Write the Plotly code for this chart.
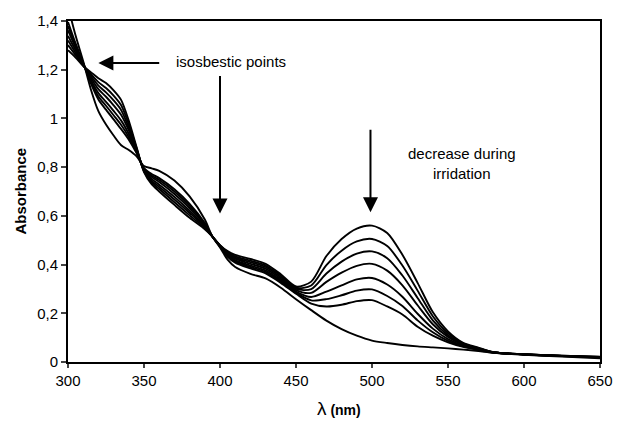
import plotly.graph_objects as go

wavelength = [300, 305, 310, 315, 320, 325, 330, 335, 340, 345, 350, 355, 360, 370, 380, 390, 395,
              400, 405, 410, 420, 430, 440, 450, 460, 470, 480, 490, 500, 510, 520, 530, 540, 550,
              560, 570, 580, 600, 625, 650]

spec_1 = [1.280, 1.250, 1.215, 1.190, 1.165, 1.145, 1.115, 1.075, 0.990, 0.885, 0.780, 0.730, 0.700,
          0.645, 0.592, 0.545, 0.515, 0.480, 0.455, 0.440, 0.423, 0.403, 0.360, 0.310, 0.330, 0.435,
          0.505, 0.548, 0.560, 0.530, 0.440, 0.325, 0.205, 0.126, 0.079, 0.059, 0.040, 0.032, 0.026, 0.022]
spec_2 = [1.301, 1.260, 1.217, 1.182, 1.149, 1.125, 1.094, 1.054, 0.976, 0.880, 0.783, 0.738, 0.710,
          0.656, 0.602, 0.550, 0.515, 0.479, 0.451, 0.434, 0.416, 0.396, 0.354, 0.305, 0.314, 0.398,
          0.457, 0.495, 0.505, 0.476, 0.396, 0.293, 0.188, 0.118, 0.076, 0.057, 0.040, 0.032, 0.026, 0.021]
spec_3 = [1.320, 1.270, 1.219, 1.174, 1.135, 1.107, 1.074, 1.034, 0.963, 0.876, 0.786, 0.745, 0.719,
          0.667, 0.612, 0.554, 0.515, 0.478, 0.447, 0.429, 0.410, 0.390, 0.348, 0.300, 0.299, 0.363,
          0.412, 0.445, 0.454, 0.426, 0.355, 0.263, 0.171, 0.110, 0.073, 0.056, 0.040, 0.032, 0.025, 0.021]
spec_4 = [1.339, 1.280, 1.222, 1.167, 1.120, 1.089, 1.054, 1.014, 0.951, 0.872, 0.788, 0.752, 0.728,
          0.678, 0.621, 0.558, 0.515, 0.477, 0.443, 0.424, 0.403, 0.383, 0.342, 0.295, 0.284, 0.329,
          0.367, 0.395, 0.403, 0.375, 0.315, 0.233, 0.155, 0.103, 0.070, 0.054, 0.039, 0.031, 0.025, 0.020]
spec_5 = [1.362, 1.291, 1.224, 1.158, 1.104, 1.068, 1.031, 0.991, 0.936, 0.867, 0.791, 0.760, 0.739,
          0.690, 0.632, 0.563, 0.515, 0.476, 0.439, 0.418, 0.396, 0.376, 0.335, 0.289, 0.267, 0.289,
          0.315, 0.339, 0.345, 0.318, 0.268, 0.198, 0.137, 0.094, 0.067, 0.053, 0.039, 0.031, 0.025, 0.019]
spec_6 = [1.379, 1.300, 1.226, 1.151, 1.090, 1.052, 1.013, 0.973, 0.924, 0.863, 0.794, 0.766, 0.747,
          0.700, 0.641, 0.567, 0.515, 0.475, 0.435, 0.413, 0.390, 0.370, 0.330, 0.284, 0.253, 0.258,
          0.274, 0.293, 0.298, 0.271, 0.230, 0.171, 0.122, 0.087, 0.064, 0.051, 0.039, 0.031, 0.024, 0.019]
spec_7 = [1.396, 1.308, 1.228, 1.145, 1.078, 1.036, 0.996, 0.956, 0.913, 0.859, 0.796, 0.772, 0.755,
          0.709, 0.649, 0.571, 0.515, 0.474, 0.432, 0.408, 0.384, 0.364, 0.325, 0.280, 0.240, 0.228,
          0.235, 0.250, 0.254, 0.228, 0.195, 0.145, 0.108, 0.081, 0.062, 0.050, 0.039, 0.031, 0.024, 0.018]
spec_final = [1.460, 1.340, 1.235, 1.120, 1.030, 0.975, 0.930, 0.890, 0.870, 0.845, 0.805, 0.795, 0.785,
              0.745, 0.680, 0.585, 0.515, 0.470, 0.420, 0.390, 0.362, 0.343, 0.305, 0.258, 0.213, 0.170,
              0.135, 0.108, 0.088, 0.078, 0.070, 0.064, 0.060, 0.056, 0.051, 0.045, 0.038, 0.030, 0.022, 0.015]

series = [spec_1, spec_2, spec_3, spec_4, spec_5, spec_6, spec_7, spec_final]

x_ticks = [300, 350, 400, 450, 500, 550, 600, 650]
y_ticks = [0, 0.2, 0.4, 0.6, 0.8, 1.0, 1.2, 1.4]
y_ticktext = ["0", "0,2", "0,4", "0,6", "0,8", "1", "1,2", "1,4"]

fig = go.Figure()
for s in series:
    fig.add_trace(go.Scatter(x=wavelength, y=s, mode="lines",
                             line=dict(color="black", width=1.9, shape="spline", smoothing=0.8),
                             showlegend=False, hoverinfo="skip"))

font_family = "Liberation Sans, Arial, sans-serif"

fig.update_layout(
    width=625, height=422,
    margin=dict(l=68, r=13, t=18, b=60),
    paper_bgcolor="white", plot_bgcolor="white",
    font=dict(family=font_family, color="black", size=15),
    xaxis=dict(range=[300, 650], tickvals=x_ticks, ticks="outside", ticklen=4, tickwidth=2,
               showline=True, linecolor="black", linewidth=2, mirror=True, showgrid=False,
               zeroline=False, tickfont=dict(size=15)),
    yaxis=dict(range=[0, 1.4], tickvals=y_ticks, ticktext=y_ticktext, ticks="outside", ticklen=5,
               tickwidth=2, showline=True, linecolor="black", linewidth=2, mirror=True,
               showgrid=False, zeroline=False, tickfont=dict(size=15)),
)

annotations = [
    dict(text="<b>Absorbance</b>", xref="paper", yref="paper", x=-0.09, y=0.5, textangle=-90,
         showarrow=False, font=dict(size=15), xanchor="center", yanchor="middle"),
    dict(text="<span style='font-size:19px'>λ</span><b> (nm)</b>", xref="paper", yref="paper",
         x=0.51, y=-0.135, showarrow=False, font=dict(size=14), xanchor="center", yanchor="middle"),
    dict(text="isosbestic points", xref="x", yref="y", x=369.5, y=1.235, showarrow=False,
         xanchor="left", yanchor="middle", font=dict(size=15)),
    dict(text="decrease during<br>irridation", xref="x", yref="y", x=559, y=0.813, showarrow=False,
         xanchor="center", yanchor="middle", font=dict(size=15)),
    # arrows
    dict(x=320, y=1.228, ax=361, ay=1.228, xref="x", yref="y", axref="x", ayref="y", text="",
         showarrow=True, arrowhead=2, arrowsize=1.5, arrowwidth=2, arrowcolor="black", standoff=0),
    dict(x=400, y=0.61, ax=400, ay=1.18, xref="x", yref="y", axref="x", ayref="y", text="",
         showarrow=True, arrowhead=2, arrowsize=1.5, arrowwidth=2, arrowcolor="black", standoff=0),
    dict(x=499, y=0.615, ax=499, ay=0.96, xref="x", yref="y", axref="x", ayref="y", text="",
         showarrow=True, arrowhead=2, arrowsize=1.5, arrowwidth=2, arrowcolor="black", standoff=0),
]
fig.update_layout(annotations=annotations)

fig.write_html("out.html")
